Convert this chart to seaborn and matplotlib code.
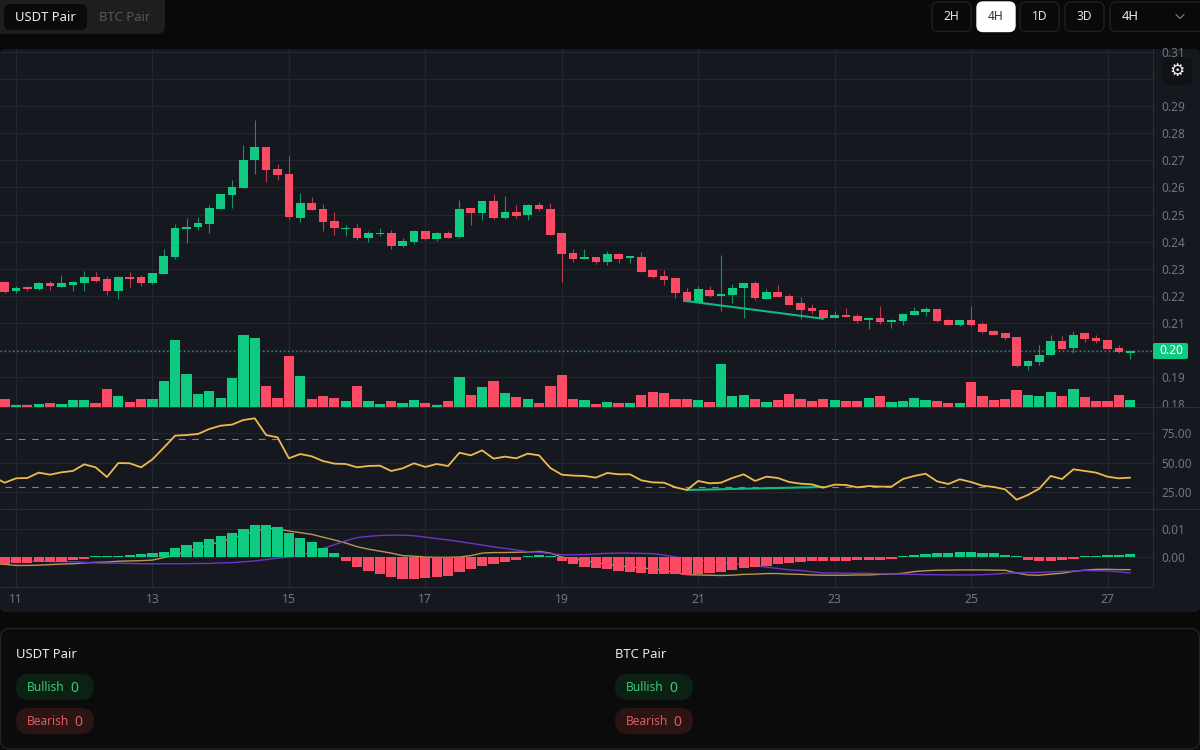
import matplotlib

matplotlib.use("Agg")
import matplotlib.pyplot as plt
import numpy as np
import pandas as pd
import seaborn as sns
from matplotlib.patches import FancyBboxPatch
from matplotlib.transforms import Bbox, TransformedBbox

# Values, one candle every 4 hours.
day_labels = ["11", "13", "15", "17", "19", "21", "23", "25", "27"]
day_ticks = [1, 13, 25, 37, 49, 61, 73, 85, 97]

opens = [
    .2251, .2217, .2232, .2227, .2248, .2234, .2241, .2248, .2268, .2261,
    .2217, .2268, .2268, .2248, .2280, .2345, .2445, .2455, .2466, .2522,
    .2573, .2598, .2701, .2750, .2668, .2649, .2488, .2541, .2522, .2476,
    .2445, .2449, .2415, .2428, .2431, .2384, .2400, .2439, .2410, .2432,
    .2417, .2525, .2505, .2549, .2487, .2511, .2498, .2535, .2522, .2432,
    .2358, .2335, .2342, .2324, .2356, .2339, .2345, .2297, .2272, .2265,
    .2213, .2179, .2223, .2200, .2203, .2228, .2248, .2188, .2213, .2200,
    .2173, .2154, .2147, .2120, .2130, .2127, .2111, .2117, .2104, .2109,
    .2131, .2141, .2152, .2110, .2092, .2110, .2097, .2072, .2062, .2047,
    .1943, .1957, .1981, .2033, .2009, .2062, .2045, .2038, .2009, .1989,
]
highs = [
    .2255, .2235, .2235, .2251, .2255, .2276, .2255, .2292, .2290, .2272,
    .2272, .2287, .2276, .2286, .2373, .2465, .2487, .2491, .2535, .2577,
    .2627, .2756, .2848, .2750, .2685, .2716, .2579, .2563, .2539, .2508,
    .2463, .2466, .2439, .2449, .2442, .2413, .2443, .2439, .2434, .2439,
    .2553, .2525, .2551, .2577, .2567, .2535, .2539, .2545, .2542, .2432,
    .2373, .2373, .2342, .2366, .2359, .2349, .2362, .2300, .2297, .2265,
    .2228, .2238, .2238, .2352, .2244, .2248, .2255, .2224, .2240, .2207,
    .2195, .2169, .2147, .2144, .2154, .2133, .2121, .2162, .2116, .2138,
    .2159, .2159, .2152, .2114, .2112, .2163, .2103, .2074, .2065, .2047,
    .1964, .2019, .2055, .2051, .2071, .2067, .2057, .2038, .2019, .1998,
]
lows = [
    .2210, .2210, .2217, .2223, .2223, .2232, .2220, .2217, .2251, .2203,
    .2189, .2234, .2238, .2244, .2280, .2337, .2394, .2443, .2432, .2522,
    .2525, .2598, .2649, .2619, .2626, .2484, .2474, .2518, .2439, .2425,
    .2421, .2406, .2398, .2421, .2373, .2380, .2391, .2407, .2403, .2415,
    .2413, .2463, .2480, .2483, .2483, .2487, .2480, .2512, .2425, .2251,
    .2325, .2335, .2318, .2314, .2321, .2321, .2290, .2265, .2240, .2192,
    .2179, .2175, .2196, .2144, .2175, .2120, .2186, .2188, .2196, .2168,
    .2116, .2135, .2120, .2120, .2124, .2099, .2079, .2097, .2083, .2093,
    .2131, .2127, .2105, .2092, .2091, .2088, .2063, .2055, .2038, .1937,
    .1927, .1945, .1981, .2006, .1989, .2031, .2028, .2006, .1988, .1969,
]
closes = [
    .2213, .2230, .2226, .2248, .2238, .2248, .2251, .2268, .2255, .2217,
    .2268, .2262, .2248, .2283, .2348, .2449, .2455, .2469, .2525, .2577,
    .2602, .2701, .2750, .2665, .2647, .2491, .2541, .2518, .2474, .2449,
    .2450, .2415, .2431, .2432, .2384, .2403, .2439, .2410, .2432, .2415,
    .2522, .2505, .2549, .2487, .2508, .2495, .2535, .2520, .2425, .2355,
    .2337, .2342, .2324, .2356, .2337, .2346, .2290, .2269, .2259, .2210,
    .2179, .2227, .2200, .2206, .2230, .2248, .2192, .2213, .2196, .2168,
    .2148, .2143, .2120, .2130, .2124, .2109, .2117, .2105, .2111, .2133,
    .2144, .2152, .2109, .2092, .2110, .2092, .2067, .2057, .2044, .1942,
    .1960, .1982, .2033, .2006, .2057, .2040, .2033, .2006, .1992, .1998,
]
volume = [
    23, 6, 6, 9, 12, 9, 20, 20, 12, 53,
    31, 15, 23, 23, 76, 200, 98, 39, 48, 26,
    85, 214, 206, 62, 26, 153, 93, 23, 31, 26,
    17, 62, 17, 9, 17, 12, 20, 12, 6, 18,
    90, 34, 59, 78, 42, 28, 23, 12, 62, 96,
    23, 20, 9, 14, 12, 12, 34, 45, 42, 23,
    23, 20, 14, 127, 31, 34, 23, 14, 20, 39,
    23, 17, 23, 20, 17, 17, 25, 31, 14, 17,
    25, 20, 17, 11, 11, 73, 31, 20, 23, 50,
    36, 31, 45, 31, 53, 28, 17, 17, 36, 20,
]
# RSI has one more reading, for the candle just left of the frame.
rsi = [
    38.3,
    33.2, 36.9, 37.2, 41.7, 40.0, 42.0, 43.1, 48.7, 46.2, 38.0,
    49.8, 49.6, 46.2, 52.9, 62.8, 72.9, 73.4, 74.3, 78.5, 81.3,
    82.2, 86.1, 87.5, 73.4, 71.5, 53.8, 57.4, 55.5, 51.5, 49.3,
    49.0, 46.2, 47.3, 47.6, 43.1, 45.3, 49.6, 46.5, 49.0, 47.3,
    58.5, 56.3, 60.5, 53.5, 55.2, 53.8, 57.7, 56.3, 45.6, 40.0,
    39.2, 38.9, 37.5, 41.4, 40.3, 40.3, 35.2, 33.5, 33.2, 29.3,
    27.1, 34.7, 32.7, 33.2, 37.2, 40.3, 34.7, 38.3, 37.2, 33.8,
    32.4, 31.8, 29.0, 31.6, 31.3, 29.3, 30.4, 29.9, 29.9, 36.3,
    38.9, 40.8, 34.4, 32.1, 36.1, 33.8, 30.7, 29.6, 27.6, 18.9,
    22.9, 28.2, 38.9, 36.3, 44.5, 43.1, 41.7, 38.3, 36.9, 37.5,
]
# MACD values below are in units of 0.001.
macd_hist = [
    -2.5, -1.9, -1.9, -1.5, -1.5, -1.5, -1.0, -0.6, 0.4, 0.4,
    0.6, 0.8, 1.1, 1.4, 2.0, 3.3, 4.4, 5.5, 6.4, 7.7,
    8.7, 10.1, 11.4, 11.4, 10.8, 8.7, 7.0, 5.5, 3.3, 1.4,
    -1.3, -3.3, -5.0, -6.0, -6.9, -7.6, -7.6, -7.3, -7.0, -6.7,
    -5.2, -4.3, -3.0, -2.3, -1.5, -1.0, 0.4, 0.8, 0.4, -1.3,
    -2.3, -3.3, -3.9, -4.3, -5.0, -5.2, -5.6, -6.0, -6.0, -6.0,
    -6.3, -6.0, -5.6, -5.2, -4.6, -3.9, -3.6, -3.0, -2.3, -1.9,
    -1.5, -1.3, -1.2, -1.2, -1.3, -1.0, -1.0, -1.0, -0.6, 0.4,
    0.8, 1.1, 1.4, 1.4, 1.8, 1.8, 1.4, 1.4, 1.0, 0.4,
    -1.0, -1.3, -1.3, -1.0, -0.6, 0.4, 0.5, 0.8, 0.8, 1.2,
]
macd_line = [
    -2.3,
    -2.5, -2.9, -2.9, -2.8, -2.6, -2.4, -2.3, -2.0, -1.8, -1.7,
    -1.4, -1.3, -1.2, -1.0, -0.1, 0.8, 2.0, 3.2, 4.4, 5.6,
    6.8, 8.1, 9.3, 10.4, 10.1, 9.4, 8.8, 8.2, 7.2, 6.2,
    5.1, 3.8, 2.9, 2.2, 1.5, 0.6, 0.4, 0.1, 0.0, 0.0,
    0.1, 0.6, 1.5, 1.7, 1.7, 1.8, 1.9, 2.1, 1.5, 0.1,
    -0.5, -1.2, -1.9, -2.5, -3.0, -3.5, -3.8, -4.2, -4.6, -5.5,
    -6.2, -6.3, -6.4, -6.5, -6.4, -6.1, -6.0, -5.8, -5.8, -6.0,
    -6.1, -6.3, -6.4, -6.4, -6.4, -6.3, -6.3, -6.1, -6.0, -5.7,
    -5.1, -4.8, -4.6, -4.6, -4.5, -4.5, -4.5, -4.6, -4.6, -5.6,
    -6.3, -6.4, -6.0, -5.7, -5.0, -4.6, -4.3, -4.3, -4.4, -4.4,
]
signal_line = [
    -1.1,
    -1.2, -1.3, -1.4, -1.4, -1.5, -1.5, -1.6, -1.8, -2.0, -2.1,
    -2.1, -2.2, -2.3, -2.3, -2.3, -2.3, -2.3, -2.2, -2.2, -2.0,
    -1.9, -1.6, -1.3, -0.8, -0.3, 0.1, 0.8, 1.9, 3.2, 4.5,
    5.9, 7.0, 7.5, 7.8, 7.9, 7.9, 7.7, 7.2, 6.7, 6.2,
    5.6, 5.0, 4.4, 3.7, 3.2, 2.6, 2.0, 1.8, 1.3, 0.9,
    0.9, 1.0, 1.2, 1.4, 1.5, 1.5, 1.4, 1.3, 0.8, 0.1,
    -0.4, -0.9, -1.3, -2.0, -2.1, -2.6, -3.0, -3.5, -4.0, -4.5,
    -4.7, -5.2, -5.6, -5.6, -5.7, -5.7, -5.7, -5.9, -5.9, -6.0,
    -6.1, -6.2, -6.2, -6.3, -6.3, -6.3, -6.2, -6.0, -5.7, -5.6,
    -5.4, -5.4, -5.2, -5.1, -4.9, -4.7, -4.8, -4.9, -5.2, -5.6,
]
price_ticks = [.18, .19, .20, .21, .22, .23, .24, .25, .26, .27, .28, .29, .30, .31]
rsi_ticks = [25, 50, 75]
rsi_bands = [30, 70]
macd_ticks = [0.0, 0.01]
last_price = 0.1998
div_t = [60, 72]
div_price = [.2181, .2116]
div_rsi = [27.1, 29.6]

GREEN = "#0ecb81"
RED = "#fd4a64"
BG_PAGE = "#090909"
BG_CHART = "#15181e"
GRID = "#22262d"
EDGE = "#2a2e35"
AXIS_TEXT = "#70757e"
TAN = "#b8964f"
PURPLE = "#6d35c9"
RSI_COLOUR = "#eeb94e"

W, H = 1200, 750
LEFT, RIGHT = 0, 1153

sns.set_theme(style="dark", rc={"axes.facecolor": "none", "figure.facecolor": BG_PAGE})
plt.rcParams["font.family"] = ["Noto Sans", "DejaVu Sans"]


def pane(fig, top, bottom, **kwargs):
    # Axes placed by pixel rows of the picture.
    ax = fig.add_axes(
        [LEFT / W, 1 - bottom / H, (RIGHT - LEFT) / W, (bottom - top) / H], **kwargs
    )
    ax.patch.set_visible(False)
    for spine in ax.spines.values():
        spine.set_visible(False)
    ax.grid(False)
    return ax


def box(ax, x0, y0, x1, y1, face, edge="none", radius=6, lw=1.0, zorder=1):
    ax.add_patch(
        FancyBboxPatch(
            (x0, y0),
            x1 - x0,
            y1 - y0,
            boxstyle=f"round,pad=0,rounding_size={radius}",
            facecolor=face,
            edgecolor=edge,
            linewidth=lw,
            zorder=zorder,
        )
    )


def px_text(ax, x, y, text, size_px, colour, ha="center", **kwargs):
    ax.text(x, y, text, fontsize=size_px * 0.72, color=colour, ha=ha, va="center", **kwargs)


fig = plt.figure(figsize=(12, 7.5), dpi=100, facecolor=BG_PAGE)

# --------------------------------------------------------------------------
# *** Page chrome behind the chart

ui = fig.add_axes([0, 0, 1, 1], zorder=0)
ui.set_xlim(0, W)
ui.set_ylim(H, 0)
ui.axis("off")

box(ui, 0, 49, 1200, 612, BG_CHART)
ui.plot([1153, 1153], [49, 587], color=EDGE, lw=0.8)
ui.plot([0, 1153], [586.7, 586.7], color=EDGE, lw=0.8)
ui.plot([0, 1200], [406.5, 406.5], color=EDGE, lw=0.8)
ui.plot([0, 1200], [509.2, 509.2], color=EDGE, lw=0.8)

box(ui, -8, -8, 165, 34, "#1e1e1e", radius=8)
box(ui, 4, 4, 87, 30, "#0a0a0a", radius=6)
px_text(ui, 45.5, 17.5, "USDT Pair", 13, "#ececec")
px_text(ui, 125, 17.5, "BTC Pair", 13, "#565656")

for x0, x1, label, active in [
    (932, 971, "2H", False),
    (977, 1015, "4H", True),
    (1020, 1059, "1D", False),
    (1065, 1104, "3D", False),
]:
    box(ui, x0, 2, x1, 31.5, "#ffffff" if active else "#090909", "#ffffff" if active else "#1f1f1f")
    px_text(ui, (x0 + x1) / 2, 16.5, label, 12, "#333333" if active else "#e4e4e4")
box(ui, 1110, 2, 1208, 31.5, "#090909", "#1f1f1f")
px_text(ui, 1130, 17, "4H", 13, "#ececec")
ui.plot([1176, 1180, 1184], [14.5, 18.5, 14.5], color="#777777", lw=0.9)

box(ui, 0.5, 628.5, 1199.5, 749, "#0b0b0b", "#232323", radius=9)
for x0, title in [(16, "USDT Pair"), (615, "BTC Pair")]:
    px_text(ui, x0, 654, title, 13, "#e8e8e8", ha="left")
    box(ui, x0, 674, x0 + 78, 700, "#0b2114", radius=13)
    px_text(ui, x0 + 11, 687.5, "Bullish", 12, "#3dc777", ha="left")
    px_text(ui, x0 + 58, 688, "0", 14, "#3dc777", ha="center")
    box(ui, x0, 708, x0 + 78, 734, "#2a1414", radius=13)
    px_text(ui, x0 + 11, 721.5, "Bearish", 12, "#df5b5b", ha="left")
    px_text(ui, x0 + 62, 722, "0", 14, "#df5b5b", ha="center")

# --------------------------------------------------------------------------
# *** Data tables

t = np.arange(len(opens))
t_lines = np.arange(-1, len(opens))
df = pd.DataFrame(
    {
        "t": t,
        "open": opens,
        "high": highs,
        "low": lows,
        "close": closes,
        "volume": volume,
        "hist": np.array(macd_hist) * 1e-3,
    }
)
df["up"] = df["close"] >= df["open"]
df["hist_up"] = df["hist"] >= 0
df_lines = pd.DataFrame(
    {
        "t": t_lines,
        "rsi": rsi,
        "macd": np.array(macd_line) * 1e-3,
        "signal": np.array(signal_line) * 1e-3,
    }
)
palette = {True: GREEN, False: RED}

# --------------------------------------------------------------------------
# *** Price and volume pane

# Volume sits above the price axes, its bars cover the grid and the dotted line.
ax_vol = pane(fig, 49, 406.5, zorder=3)
sns.barplot(
    data=df, x="t", y="volume", hue="up", palette=palette, native_scale=True,
    dodge=False, width=0.9, errorbar=None, legend=False, saturation=1, linewidth=0, ax=ax_vol,
)
ax_vol.set_ylim(0, 1072.5)
ax_vol.set_xlim(-0.407, 101.0)
ax_vol.set_axis_off()

ax_price = pane(fig, 49, 406.5, zorder=2, sharex=ax_vol)
for day in day_ticks:
    ax_price.axvline(day, color=GRID, lw=0.9, zorder=0)
for level in price_ticks:
    ax_price.axhline(level, color=GRID, lw=0.9, zorder=0)
for up, colour in palette.items():
    rows = df[df["up"] == up]
    ax_price.vlines(rows["t"], rows["low"], rows["high"], color=colour, lw=0.8, alpha=0.7, zorder=2)
    ax_price.bar(
        rows["t"],
        (rows["close"] - rows["open"]).abs(),
        bottom=rows[["open", "close"]].min(axis=1),
        width=0.76,
        color=colour,
        linewidth=0,
        zorder=3,
    )
sns.lineplot(x=div_t, y=div_price, color="#12b981", lw=1.5, ax=ax_price, zorder=4)
ax_price.axhline(last_price, color=GREEN, lw=1.0, ls=(0, (1, 2)), alpha=0.85, zorder=4)
ax_price.set_ylim(0.2 + (350.2 - 406.5) / 2713, 0.2 + (350.2 - 49) / 2713)
ax_price.yaxis.tick_right()
ax_price.set_yticks(price_ticks)
# 0.30 sits under the settings button and 0.20 under the last price tag.
ax_price.set_yticklabels(["" if v in (.30, .20) else f"{v:.2f}" for v in price_ticks])
ax_price.tick_params(axis="y", length=0, pad=6, labelsize=8.5, labelcolor=AXIS_TEXT)
ax_price.tick_params(axis="x", length=0, labelbottom=False)
ax_price.set_xlabel("")
ax_price.set_ylabel("")
pane_clip = TransformedBbox(Bbox([[0, 1 - 406.5 / H], [1, 1]]), fig.transFigure)
for label in ax_price.get_yticklabels():
    label.set_clip_on(True)
    label.set_clip_box(pane_clip)

# --------------------------------------------------------------------------
# *** RSI pane

ax_rsi = pane(fig, 406.5, 509.2, zorder=2, sharex=ax_vol)
for day in day_ticks:
    ax_rsi.axvline(day, color=GRID, lw=0.9, zorder=0)
for level in rsi_ticks:
    ax_rsi.axhline(level, color=GRID, lw=0.9, zorder=0)
for level in rsi_bands:
    ax_rsi.plot([t[0], t[-1]], [level, level], color="#7d828b", lw=0.8, ls=(0, (6, 6)), zorder=1)
sns.lineplot(data=df_lines, x="t", y="rsi", color=RSI_COLOUR, lw=1.3, ax=ax_rsi, zorder=3)
sns.lineplot(x=div_t, y=div_rsi, color="#12b981", lw=1.5, ax=ax_rsi, zorder=2)
ax_rsi.set_ylim(50 + (462.8 - 509.2) / 1.186, 50 + (462.8 - 406.5) / 1.186)
ax_rsi.yaxis.tick_right()
ax_rsi.set_yticks(rsi_ticks)
ax_rsi.set_yticklabels([f"{v:.2f}" for v in rsi_ticks])
ax_rsi.tick_params(axis="y", length=0, pad=6, labelsize=8.5, labelcolor=AXIS_TEXT)
ax_rsi.tick_params(axis="x", length=0, labelbottom=False)
ax_rsi.set_xlabel("")
ax_rsi.set_ylabel("")

# --------------------------------------------------------------------------
# *** MACD pane

ax_macd = pane(fig, 509.2, 586.7, zorder=2, sharex=ax_vol)
for day in day_ticks:
    ax_macd.axvline(day, color=GRID, lw=0.9, zorder=0)
for level in macd_ticks:
    ax_macd.axhline(level, color=GRID, lw=0.9, zorder=0)
sns.lineplot(data=df_lines, x="t", y="macd", color=TAN, lw=1.0, ax=ax_macd, zorder=1)
sns.lineplot(data=df_lines, x="t", y="signal", color=PURPLE, lw=1.0, ax=ax_macd, zorder=1)
sns.barplot(
    data=df, x="t", y="hist", hue="hist_up", palette=palette, native_scale=True,
    dodge=False, width=0.9, errorbar=None, legend=False, saturation=1, linewidth=0,
    ax=ax_macd, zorder=2,
)
ax_macd.set_ylim((557.3 - 586.7) / 2800, (557.3 - 509.2) / 2800)
ax_macd.yaxis.tick_right()
ax_macd.set_yticks(macd_ticks)
ax_macd.set_yticklabels([f"{v:.2f}" for v in macd_ticks])
ax_macd.set_xticks(day_ticks)
ax_macd.set_xticklabels(day_labels)
ax_macd.tick_params(axis="y", length=0, pad=6, labelsize=8.5, labelcolor=AXIS_TEXT)
ax_macd.tick_params(axis="x", length=0, pad=4.5, labelsize=8.8, labelcolor=AXIS_TEXT)
ax_macd.set_xlabel("")
ax_macd.set_ylabel("")
ax_macd.set_xlim(-0.407, 101.0)

# --------------------------------------------------------------------------
# *** Overlay: last price tag and settings button

top = fig.add_axes([0, 0, 1, 1], zorder=5)
top.set_xlim(0, W)
top.set_ylim(H, 0)
top.axis("off")
box(top, 1153, 343, 1188, 359, GREEN, radius=2)
px_text(top, 1171, 351, "0.20", 12, "#ffffff")
box(top, 1162, 57, 1192, 85, "#101216", radius=4)
px_text(top, 1177, 71, "\u2699", 17, "#f0f0f0", family="DejaVu Sans")

fig.savefig("out.png", dpi=100, facecolor=BG_PAGE)
